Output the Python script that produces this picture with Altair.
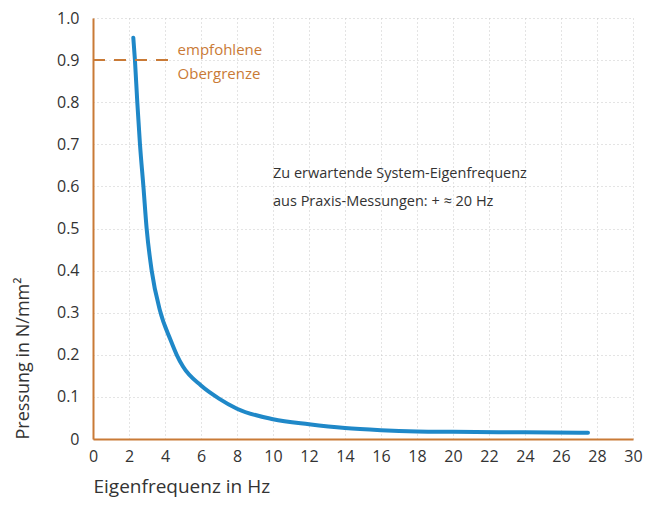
import altair as alt
import pandas as pd

freq = [2.24, 2.33, 2.46, 2.61, 2.80, 2.98, 3.26, 3.72, 4.31, 4.65, 5.0, 6.0, 7.0, 8.0, 10.0, 12, 14, 16, 18, 20, 24, 27.5]
press = [0.953, 0.9, 0.8, 0.7, 0.6, 0.5, 0.4, 0.305, 0.235, 0.2, 0.172, 0.127, 0.096, 0.072, 0.047, 0.035, 0.026, 0.021, 0.018, 0.017, 0.016, 0.015]

limit_x = [0, 4.4]
limit_y = [0.9, 0.9]
limit_text = ["empfohlene", "Obergrenze"]
limit_text_x = [4.7, 4.7]
limit_text_y = [0.925, 0.866]

note_text = ["Zu erwartende System-Eigenfrequenz", "aus Praxis-Messungen: + \u2248 20 Hz"]
note_x = [10.0, 10.0]
note_y = [0.63, 0.564]

x_ticks = [float(v) for v in range(0, 31, 2)]
y_ticks = [i / 10 for i in range(0, 11)]

ORANGE = "#c97a36"
BLUE = "#1f88c8"
FONT = "Open Sans"

df = pd.DataFrame({"f": freq, "p": press})
df_lim = pd.DataFrame({"f": limit_x, "p": limit_y})
df_lt = pd.DataFrame({"f": limit_text_x, "p": limit_text_y, "t": limit_text})
df_nt = pd.DataFrame({"f": note_x, "p": note_y, "t": note_text})

xs = alt.Scale(domain=[0, 30], nice=False, zero=False)
ys = alt.Scale(domain=[0, 1.0], nice=False)

xax = alt.Axis(values=x_ticks, title="Eigenfrequenz in Hz", titleAnchor="start",
               titleAlign="left", titleFontSize=19, titleFontWeight="normal", titleColor="#333",
               titlePadding=13, labelFontSize=16, labelColor="#333", labelPadding=9,
               labelOverlap=False, labelSeparation=0, labelFlush=False, format="d",
               domainColor=ORANGE, domainWidth=2, ticks=False, grid=True,
               gridColor="#c8c8c8", gridDash=[1, 3])
yax = alt.Axis(values=y_ticks, title="Pressung in N/mm\u00b2", titleAnchor="start",
               titleAlign="left", titleFontSize=18, titleFontWeight="normal", titleColor="#333",
               titlePadding=24, labelFontSize=16, labelColor="#333", labelPadding=14,
               labelOverlap=False, labelSeparation=0, labelFlush=False,
               labelExpr="datum.value == 0 ? '0' : format(datum.value, '.1f')",
               domainColor=ORANGE, domainWidth=2, ticks=False, grid=True,
               gridColor="#c8c8c8", gridDash=[1, 3])

X = alt.X("f:Q", scale=xs, axis=xax)
Y = alt.Y("p:Q", scale=ys, axis=yax)

curve = alt.Chart(df).mark_line(color=BLUE, strokeWidth=4, interpolate="monotone", strokeCap="round").encode(
    x=X, y=Y,
)

lim = alt.Chart(df_lim).mark_line(color=ORANGE, strokeWidth=2, strokeDash=[12, 9]).encode(
    x=X, y=Y
)

lt = alt.Chart(df_lt).mark_text(color=ORANGE, fontSize=15, font=FONT, align="left", baseline="middle").encode(
    x=X, y=Y, text="t:N"
)

nt = alt.Chart(df_nt).mark_text(color="#333", fontSize=14.5, font=FONT, align="left", baseline="middle").encode(
    x=X, y=Y, text="t:N"
)

chart = alt.layer(curve, lim, lt, nt).properties(
    width=540, height=421,
    autosize=alt.AutoSizeParams(type="none"),
    padding={"left": 85, "top": 10, "right": 12, "bottom": 60},
).configure_view(stroke=None).configure_axis(labelFont=FONT, titleFont=FONT)

chart.save("out.html", embed_options={"renderer": "svg", "actions": False})
